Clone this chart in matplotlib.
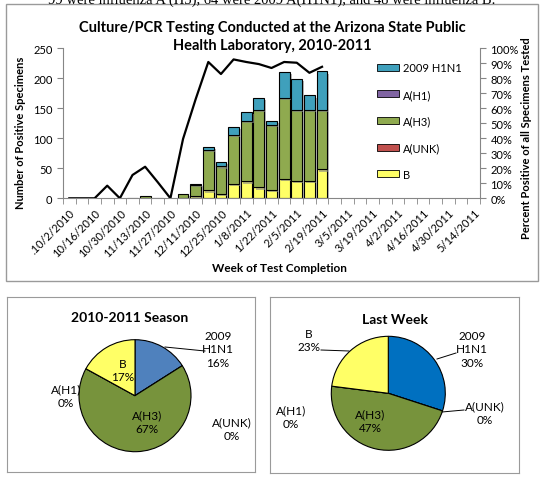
import numpy as np
import matplotlib
matplotlib.use("Agg")
import matplotlib.pyplot as plt
import matplotlib.patheffects as pe
from matplotlib.patches import Rectangle
from matplotlib.ticker import PercentFormatter, FixedLocator

plt.rcParams['font.family'] = ['Lato', 'DejaVu Sans']

# weekly categories (week ending)
weeks = ['.10/2/2010', '10/9/2010', '10/16/2010', '10/23/2010', '10/30/2010',
         '11/6/2010', '11/13/2010', '11/20/2010', '11/27/2010', '12/4/2010',
         '12/11/2010', '12/18/2010', '12/25/2010', '1/1/2011', '1/8/2011',
         '1/15/2011', '1/22/2011', '1/29/2011', '2/5/2011', '2/12/2011',
         '2/19/2011', '2/26/2011', '3/5/2011', '3/12/2011', '3/19/2011',
         '3/26/2011', '4/2/2011', '4/9/2011', '4/16/2011', '4/23/2011',
         '4/30/2011', '5/7/2011', '5/14/2011']

# positive specimens per week (weeks reported so far)
flu_b = [0, 0, 0, 0, 0, 0, 0, 0, 0, 1, 3, 13, 7, 24, 28, 18, 14, 32, 29, 29, 48]
a_unk = [0] * 21
a_h3 = [0, 0, 0, 0, 0, 1, 3, 1, 0, 6, 19, 67, 46, 82, 100, 129, 108, 135, 118, 118, 99]
a_h1 = [0] * 21
h1n1 = [0, 0, 0, 0, 0, 0, 0, 0, 0, 0, 2, 5, 8, 12, 16, 20, 7, 43, 52, 24, 64]

# percent positive of all specimens tested
pct_pos = [0, 0, 0, 8.4, 0, 15.5, 21, 10.7, 0, 39.5, 66, 90.7, 82.7, 92.4,
           90.7, 89.3, 86.7, 90.7, 90.2, 83.5, 87.5]

# pie data (order: 2009 H1N1, A(UNK), A(H3), A(H1), B)
pie_names = ['2009 H1N1', 'A(UNK)', 'A(H3)', 'A(H1)', 'B']
season_pct = [16, 0, 67, 0, 17]
lastweek_pct = [30, 0, 47, 0, 23]

W, H = 549, 485


def fx(px):
    return px / W


def fy(py):
    return 1 - py / H


fig = plt.figure(figsize=(W / 100, H / 100), dpi=100)

# cut-off sentence from the report above the chart
fig.text(fx(272), fy(4), '99 were influenza A (H3), 64 were 2009 A(H1N1), and 48 were influenza B.',
         family='Liberation Serif', fontsize=10.5, ha='center', va='baseline')

# frame around the weekly chart
fig.add_artist(Rectangle((fx(6), fy(282)), (538 - 6) / W, (282 - 5) / H, transform=fig.transFigure,
                         fill=False, ec='#9a9a9a', lw=1))

# ---- main chart ----
ax = fig.add_axes([fx(63), fy(199.3), (480 - 63) / W, (199.3 - 49) / H])
x = np.arange(len(flu_b))
shadow = [pe.SimplePatchShadow(offset=(1.5, -1.5), shadow_rgbFace='#888888', alpha=0.6), pe.Normal()]
series = [('B', flu_b, '#FFFF66'), ('A(UNK)', a_unk, '#C0504D'), ('A(H3)', a_h3, '#8FAA4F'),
          ('A(H1)', a_h1, '#8064A2'), ('2009 H1N1', h1n1, '#3FA0BC')]
bottom = np.zeros(len(x))
handles = []
for name, vals, col in series:
    vals = np.array(vals, dtype=float)
    bars = ax.bar(x, vals, 0.85, bottom=bottom, color=col, edgecolor='black', linewidth=0.8)
    for b in bars:
        if b.get_height() > 0:
            b.set_path_effects(shadow)
        else:
            b.set_visible(False)
    bottom += vals
    handles.append(Rectangle((0, 0), 1, 1, facecolor=col, edgecolor='black', linewidth=0.6))

ax.set_xlim(-0.5, len(weeks) - 0.5)
ax.set_ylim(0, 250)
ax.set_yticks(range(0, 251, 50))
ax.set_xticks(range(0, len(weeks), 2))
ax.set_xticklabels(weeks[::2], rotation=45, ha='right', rotation_mode='anchor', fontsize=8)
ax.xaxis.set_minor_locator(FixedLocator(np.arange(-0.5, len(weeks), 1)))
ax.tick_params(axis='x', which='major', length=0, pad=6)
ax.tick_params(axis='x', which='minor', length=4, color='#868686')
ax.tick_params(axis='y', length=4, color='#868686', labelsize=8)
for s in ['top', 'right']:
    ax.spines[s].set_visible(False)
for s in ['left', 'bottom']:
    ax.spines[s].set_color('#868686')

ax2 = ax.twinx()
ax2.plot(np.arange(len(pct_pos)), np.array(pct_pos) / 100, color='black', lw=1.6)
ax2.set_ylim(0, 1)
ax2.set_yticks(np.arange(0, 1.01, 0.1))
ax2.yaxis.set_major_formatter(PercentFormatter(1, decimals=0))
ax2.tick_params(axis='y', length=4, color='#868686', labelsize=8)
for s in ['top', 'left', 'bottom']:
    ax2.spines[s].set_visible(False)
ax2.spines['right'].set_color('#868686')

ax2.legend(handles[::-1], [s[0] for s in series][::-1], loc='upper left',
           bbox_to_anchor=(0.753, 0.905), frameon=False, fontsize=8, handlelength=2.0,
           handleheight=0.6, handletextpad=0.3, labelspacing=1.4, borderpad=0, borderaxespad=0)

fig.text(fx(272), fy(37), 'Culture/PCR Testing Conducted at the Arizona State Public\nHealth Laboratory, 2010-2011',
         ha='center', va='center', fontsize=10.5, fontweight='bold', linespacing=1.4)
fig.text(fx(21), fy(133), 'Number of Positive Specimens', rotation=90, ha='center', va='center',
         fontsize=8, fontweight='bold')
fig.text(fx(526), fy(138), 'Percent Positive of all Specimens Tested', rotation=90, ha='center',
         va='center', fontsize=8, fontweight='bold')
fig.text(fx(279), fy(268), 'Week of Test Completion', ha='center', va='center', fontsize=8.5,
         fontweight='bold')


# ---- pies ----
def draw_pie(box, center, radius, vals, colors, title, title_xy, labels):
    x0, y0, x1, y1 = box
    pax = fig.add_axes([fx(x0), fy(y1), (x1 - x0) / W, (y1 - y0) / H])
    pax.pie(vals, colors=colors, startangle=90, counterclock=False, center=(center[0], H - center[1]),
            radius=radius, wedgeprops=dict(edgecolor='black', linewidth=0.8))
    pax.set_xlim(x0, x1)
    pax.set_ylim(H - y1, H - y0)
    pax.set_frame_on(True)
    for s in pax.spines.values():
        s.set_color('#9a9a9a')
    pax.set_xticks([])
    pax.set_yticks([])
    pax.text(title_xy[0], H - title_xy[1], title, ha='center', va='center', fontsize=10,
             fontweight='bold')
    for txt, (tx, ty), line in labels:
        pax.text(tx, H - ty, txt, ha='center', va='center', fontsize=8.5, linespacing=1.3)
        if line:
            pax.plot([line[0], line[2]], [H - line[1], H - line[3]], color='black', lw=0.7)


draw_pie((7, 298, 255, 473), (135, 396.7), 56, season_pct,
         ['#4F81BD', '#C0504D', '#77933C', '#8064A2', '#FFFF66'],
         '2010-2011 Season', (130, 318),
         [('2009\nH1N1\n16%', (218, 350), (165, 348, 205, 352)),
          ('B\n17%', (123, 371), None),
          ('A(H1)\n0%', (66, 397), None),
          ('A(H3)\n67%', (147, 423), None),
          ('A(UNK)\n0%', (232, 430), None)])

draw_pie((270, 298, 519, 474), (388.3, 394.3), 57, lastweek_pct,
         ['#0070C0', '#C0504D', '#77933C', '#8064A2', '#FFFF66'],
         'Last Week', (395, 320),
         [('2009\nH1N1\n30%', (472, 350), (437, 360, 456, 354)),
          ('A(UNK)\n0%', (485, 414), (442, 413, 464, 411)),
          ('B\n23%', (309, 341), (321, 351, 349, 352)),
          ('A(H1)\n0%', (291, 418), None),
          ('A(H3)\n47%', (370, 422), None)])

fig.savefig('out.png', dpi=100)
